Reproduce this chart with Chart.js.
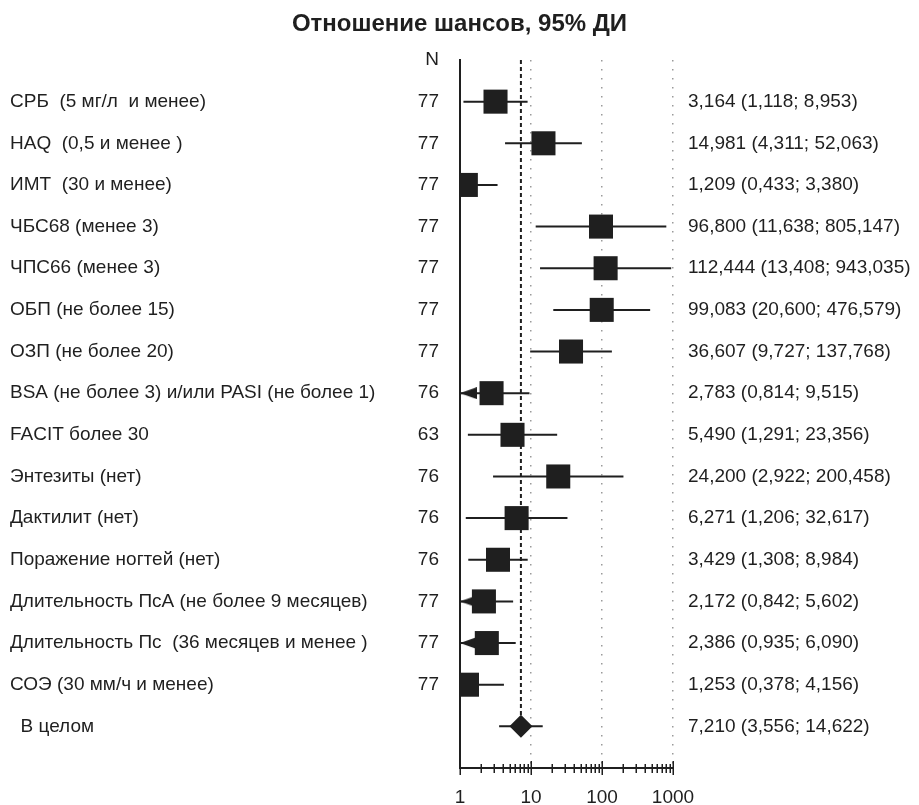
<!DOCTYPE html>
<html><head><meta charset="utf-8">
<script src="https://cdn.jsdelivr.net/npm/chart.js@4.4.1/dist/chart.umd.min.js"></script>
<style>html,body{margin:0;padding:0;background:#fff}#wrap{width:919px;height:805px}</style>
</head><body><div id="wrap"><canvas id="c" width="919" height="805"></canvas></div>
<script>
// ---- data ----
const chartTitle = 'Отношение шансов, 95% ДИ';
const nHeader = 'N';
const categories = [
  'СРБ  (5 мг/л  и менее)',
  'HAQ  (0,5 и менее )',
  'ИМТ  (30 и менее)',
  'ЧБС68 (менее 3)',
  'ЧПС66 (менее 3)',
  'ОБП (не более 15)',
  'ОЗП (не более 20)',
  'BSA (не более 3) и/или PASI (не более 1)',
  'FACIT более 30',
  'Энтезиты (нет)',
  'Дактилит (нет)',
  'Поражение ногтей (нет)',
  'Длительность ПсА (не более 9 месяцев)',
  'Длительность Пс  (36 месяцев и менее )',
  'СОЭ (30 мм/ч и менее)'
];
const nValues   = [77, 77, 77, 77, 77, 77, 77, 76, 63, 76, 76, 76, 77, 77, 77];
const oddsRatio = [3.164, 14.981, 1.209, 96.800, 112.444, 99.083, 36.607, 2.783, 5.490, 24.200, 6.271, 3.429, 2.172, 2.386, 1.253];
const ciLower   = [1.118, 4.311, 0.433, 11.638, 13.408, 20.600, 9.727, 0.814, 1.291, 2.922, 1.206, 1.308, 0.842, 0.935, 0.378];
const ciUpper   = [8.953, 52.063, 3.380, 805.147, 943.035, 476.579, 137.768, 9.515, 23.356, 200.458, 32.617, 8.984, 5.602, 6.090, 4.156];
const overallLabel = '  В целом';
const overallOR = [7.210];
const overallLower = [3.556];
const overallUpper = [14.622];
const xTickLabels = ['1', '10', '100', '1000'];

// ---- derived ----
const rowLabels = categories.concat([overallLabel]);
const allOR = oddsRatio.concat(overallOR);
const allLo = ciLower.concat(overallLower);
const allHi = ciUpper.concat(overallUpper);
const overallRow = categories.length;
const fmt = v => v.toFixed(3).replace('.', ',');
const ciText = allOR.map((v, i) => fmt(v) + ' (' + fmt(allLo[i]) + '; ' + fmt(allHi[i]) + ')');
const xMin = Number(xTickLabels[0]);
const xMax = Number(xTickLabels[xTickLabels.length - 1]);

const FONT = "'Liberation Sans', Arial, sans-serif";
const INK = '#1f1f1f';
Chart.defaults.font.family = FONT;
Chart.defaults.color = INK;

// left-pointing arrow marker (tip at image centre)
const arrow = document.createElement('canvas');
arrow.width = 34; arrow.height = 12;
(function () {
  const a = arrow.getContext('2d');
  a.fillStyle = INK;
  a.beginPath(); a.moveTo(17, 6); a.lineTo(34, 0); a.lineTo(34, 12); a.closePath(); a.fill();
})();

const ciSegments = [];
allLo.forEach((lo, i) => {
  ciSegments.push({x: lo, y: i}, {x: allHi[i], y: i}, {x: allHi[i], y: null});
});

const isDecade = v => xTickLabels.includes(String(v));

const tickMarks = {
  id: 'tickMarks',
  afterDraw(chart) {
    const xs = chart.scales.x, ctx = chart.ctx, y = chart.chartArea.bottom;
    ctx.save();
    ctx.strokeStyle = INK; ctx.lineWidth = 1.5;
    xs.ticks.forEach(t => {
      const px = Math.round(xs.getPixelForValue(t.value)) + 0.25;
      const major = isDecade(t.value);
      ctx.beginPath();
      ctx.moveTo(px, y - (major ? 7 : 4));
      ctx.lineTo(px, y + (major ? 7 : 5));
      ctx.stroke();
    });
    ctx.restore();
  }
};

const rowTicks = (from, to) => s => {
  const t = [];
  for (let i = from; i <= to; i++) t.push({value: i});
  s.ticks = t;
};

new Chart(document.getElementById('c'), {
  data: {
    datasets: [
      {
        type: 'scatter', label: 'OR', order: 0, clip: 0,
        data: oddsRatio.map((v, i) => ({x: v, y: i})),
        pointStyle: 'rect', pointRadius: 17, backgroundColor: INK, borderColor: INK, borderWidth: 0
      },
      {
        type: 'scatter', label: 'overall', order: 0, clip: 0,
        data: overallOR.map(v => ({x: v, y: overallRow})),
        pointStyle: 'rectRot', pointRadius: 11.5, backgroundColor: INK, borderColor: INK, borderWidth: 0
      },
      {
        type: 'scatter', label: 'truncated', order: 1,
        data: allLo.map((lo, i) => lo < xMin ? {x: xMin, y: i} : null).filter(Boolean),
        pointStyle: arrow, pointRadius: 8
      },
      {
        type: 'line', label: 'CI', order: 2, clip: 0,
        data: ciSegments, borderColor: INK, borderWidth: 2, pointRadius: 0, spanGaps: false, fill: false
      },
      {
        type: 'line', label: 'ref', order: 3, clip: 0,
        data: overallOR.map(v => [{x: v, y: -1}, {x: v, y: overallRow}]).flat(),
        borderColor: INK, borderWidth: 2, borderDash: [4, 3], pointRadius: 0, fill: false
      }
    ]
  },
  options: {
    responsive: false,
    animation: false,
    events: [],
    layout: {padding: {left: 0, right: 0, top: 0, bottom: 0}},
    plugins: {
      legend: {display: false},
      tooltip: {enabled: false},
      title: {
        display: true, text: chartTitle, color: INK,
        font: {size: 24, weight: 'bold', family: FONT},
        padding: {top: 10, bottom: 21.2}
      }
    },
    scales: {
      x: {
        type: 'logarithmic', min: xMin, max: xMax, position: 'bottom',
        afterBuildTicks: s => {
          const t = [];
          xTickLabels.forEach((lab, d) => {
            const base = Number(lab);
            if (d === xTickLabels.length - 1) { t.push({value: base}); return; }
            for (let m = 1; m < 10; m++) t.push({value: base * m});
          });
          s.ticks = t;
        },
        afterFit: s => { s.height = 37; },
        ticks: {
          autoSkip: false, maxRotation: 0, padding: 18, color: INK,
          font: {size: 19},
          callback: v => isDecade(v) ? String(v) : ''
        },
        grid: {
          display: true, drawTicks: false, lineWidth: 1.5,
          color: c => (c.tick && isDecade(c.tick.value) && c.tick.value !== xMin) ? '#9a9a9a' : 'rgba(0,0,0,0)'
        },
        border: {display: true, color: INK, width: 2, dash: [1.5, 7.5]}
      },
      ySpacer: {
        type: 'linear', position: 'left', weight: 2, reverse: true, min: -1, max: 16,
        afterFit: s => { s.width = 10; },
        ticks: {display: false},
        grid: {display: false},
        border: {display: false}
      },
      y: {
        type: 'linear', position: 'left', weight: 1, reverse: true, min: -1, max: 16,
        afterBuildTicks: rowTicks(0, overallRow),
        afterFit: s => { s.width = 400; },
        ticks: {crossAlign: 'far', autoSkip: false, font: {size: 19}, color: INK,
          callback: v => rowLabels[v] ?? ''},
        grid: {display: false},
        border: {display: false}
      },
      yN: {
        type: 'linear', position: 'left', weight: 0, reverse: true, min: -1, max: 16,
        afterBuildTicks: rowTicks(-1, overallRow - 1),
        afterFit: s => { s.width = 50; },
        ticks: {crossAlign: 'near', padding: 13, autoSkip: false, font: {size: 19}, color: INK,
          callback: v => v === -1 ? nHeader : String(nValues[v] ?? '')},
        grid: {display: false},
        border: {display: true, color: INK, width: 2}
      },
      yR: {
        type: 'linear', position: 'right', reverse: true, min: -1, max: 16,
        afterBuildTicks: rowTicks(0, overallRow),
        afterFit: s => { s.width = 246; },
        ticks: {crossAlign: 'near', padding: 7, autoSkip: false, font: {size: 19}, color: INK,
          callback: v => ciText[v] ?? ''},
        grid: {display: false},
        border: {display: false}
      }
    }
  },
  plugins: [tickMarks]
});
</script>
</body></html>
